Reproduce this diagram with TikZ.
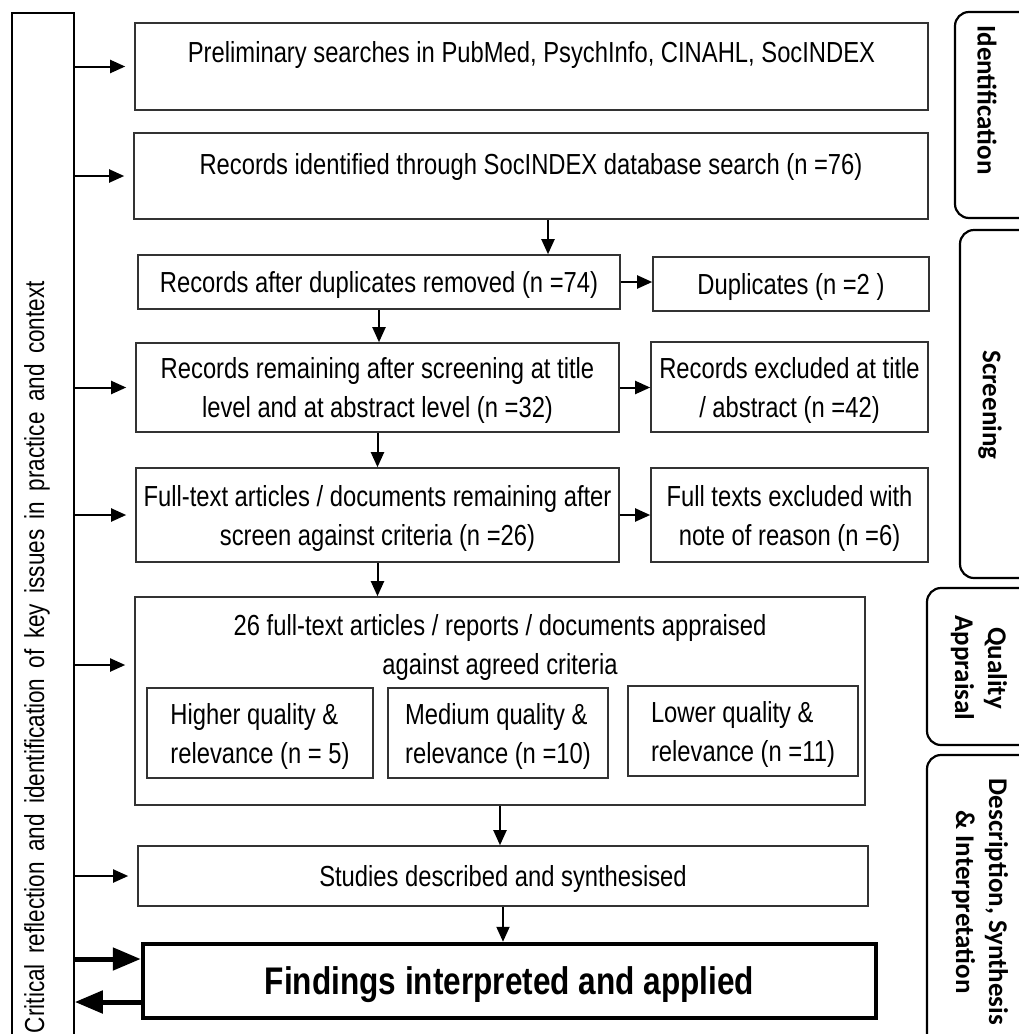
\documentclass[tikz,border=0pt]{standalone}
\usepackage{fontspec}
\setmainfont[FakeStretch=0.82]{Liberation Sans}
\newfontfamily\stagefont{Carlito}
\usetikzlibrary{arrows.meta}

\tikzset{
    box/.style={draw=black!80, line width=1.6pt, align=center, inner sep=2pt,
        text depth=-4pt, font=\fontsize{29}{39}\selectfont},
    boxtext/.style={anchor=north, align=center, inner sep=0pt,
        font=\fontsize{29}{39}\selectfont},
    stage/.style={draw, line width=2.2pt, rounded corners=14pt},
    stagetext/.style={rotate=-90, align=center,
        font=\stagefont\bfseries\fontsize{27}{33}\selectfont},
    flow/.style={line width=2pt, -{Triangle[length=15pt, width=13pt]}},
    feed/.style={flow, shorten >=9pt},
    bigflow/.style={line width=5pt, -{Triangle[length=28pt, width=22pt]}}
}

\begin{document}
\begin{tikzpicture}[x=1pt, y=-1pt]
            \clip (0, 0) rectangle (1019, 1034);

            \node[draw, line width=1.6pt, minimum width=62pt, minimum height=1040pt] (reflect) at (43, 533) {};
            \node[rotate=90, font=\fontsize{27.5}{37}\selectfont] (reflecttext) at (37, 657)
                {\makebox[752pt][s]{Critical reflection and identification of key issues in practice and context}};

            \node[box, minimum width=793pt, minimum height=87pt,
                label={[boxtext, yshift=-19pt]north:{Preliminary searches in PubMed, PsychInfo, CINAHL, SocINDEX}}]
                (prelim) at (531.5, 66.5) {};
            \node[box, minimum width=794pt, minimum height=86pt,
                label={[boxtext, yshift=-21pt]north:{Records identified through SocINDEX database search (n =76)}}]
                (ident) at (531, 176) {};

            \node[box, minimum width=482pt, minimum height=54pt] (dedup) at (379, 282) {Records after duplicates removed (n =74)};
            \node[box, minimum width=276pt, minimum height=54pt] (dups) at (791, 284) {Duplicates (n =2 )};

            \node[box, minimum width=483pt, minimum height=89pt] (screen) at (377.5, 387.5)
                {Records remaining after screening at title\\level and at abstract level (n =32)};
            \node[box, minimum width=277pt, minimum height=90pt] (exclt) at (789.5, 387)
                {Records excluded at title\\/ abstract (n =42)};

            \node[box, minimum width=483pt, minimum height=94pt] (fulltext) at (377.5, 515)
                {Full-text articles / documents remaining after\\screen against criteria (n =26)};
            \node[box, minimum width=277pt, minimum height=94pt] (exclf) at (789.5, 515)
                {Full texts excluded with\\note of reason (n =6)};

            \node[box, minimum width=730pt, minimum height=208pt,
                label={[boxtext, yshift=-18pt]north:{26 full-text articles / reports / documents appraised\\against agreed criteria}}]
                (qabox) at (500, 701) {};
            \node[box, align=left, minimum width=226pt, minimum height=90pt] (higher) at (260, 733)
                {Higher quality \&\\relevance (n = 5)};
            \node[box, align=left, minimum width=220pt, minimum height=90pt] (medium) at (498, 733)
                {Medium quality \&\\relevance (n =10)};
            \node[box, align=left, minimum width=230pt, minimum height=90pt] (lower) at (743, 731)
                {Lower quality \&\\relevance (n =11)};

            \node[box, minimum width=730pt, minimum height=60pt] (studies) at (503, 876) {Studies described and synthesised};
            \node[box, draw=black, line width=4.5pt, minimum width=733pt, minimum height=74pt,
                font=\bfseries\fontsize{38.5}{46}\selectfont] (findings) at (509.5, 981) {Findings interpreted and applied};

            \coordinate (qain) at ([yshift=36pt]qabox.west);
            \coordinate (findin) at ([yshift=22pt]findings.west);
            \coordinate (findout) at ([yshift=-21pt]findings.west);

            \draw[stage] (955, 12) rectangle (1060, 218);
            \draw[stage] (960, 230) rectangle (1060, 578);
            \draw[stage] (927, 588) rectangle (1060, 745);
            \draw[stage] (927, 755) rectangle (1060, 1060);
            \node[stagetext] (idlabel) at (987, 100) {Identification};
            \node[stagetext] (scrlabel) at (990, 405) {Screening};
            \node[stagetext] (qalabel) at (979, 668) {Quality\\Appraisal};
            \node[stagetext] (desclabel) at (980, 902) {Description, Synthesis\\\& Interpretation};

            \draw[flow] ([xshift=17pt]ident.south) -- ([xshift=17pt]ident.south |- dedup.north);
            \draw[flow] (dedup.south) -- (dedup.south |- screen.north);
            \draw[flow] (screen.south) -- (screen.south |- fulltext.north);
            \draw[flow] (fulltext.south) -- (fulltext.south |- qabox.north);
            \draw[flow] (qabox.south) -- (qabox.south |- studies.north);
            \draw[flow] (studies.south) -- (studies.south |- findings.north);

            \draw[flow] (dedup.east) -- (dedup.east -| dups.west);
            \draw[flow] (screen.east) -- (screen.east -| exclt.west);
            \draw[flow] (fulltext.east) -- (fulltext.east -| exclf.west);

            \draw[feed] (reflect.east |- prelim) -- (prelim);
            \draw[feed] (reflect.east |- ident) -- (ident);
            \draw[feed] (reflect.east |- screen) -- (screen);
            \draw[feed] (reflect.east |- fulltext) -- (fulltext);
            \draw[feed] (reflect.east |- qain) -- (qain);
            \draw[feed] (reflect.east |- studies) -- (studies);

            \draw[bigflow] (reflect.east |- findin) -- (findin);
            \draw[bigflow] (findout) -- (reflect.east |- findout);
\end{tikzpicture}
\end{document}
